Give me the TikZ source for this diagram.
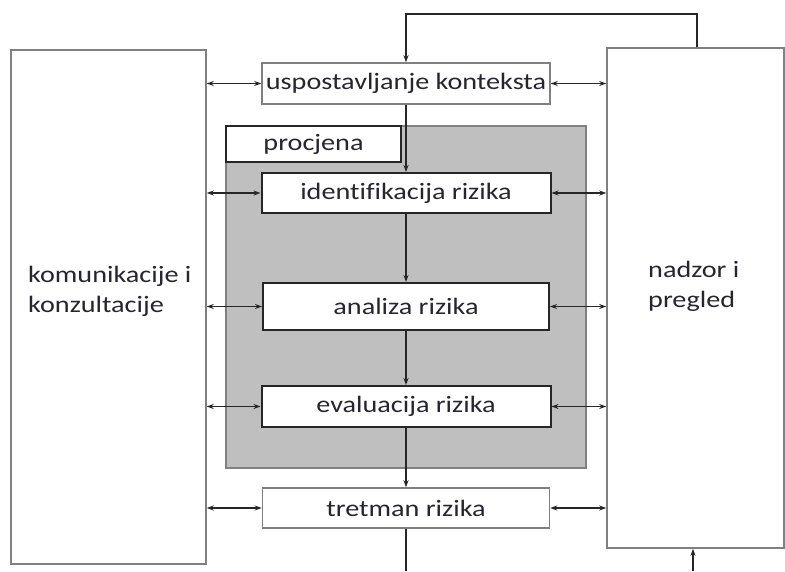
\documentclass[tikz,border=0pt]{standalone}
\usepackage{fontspec}
\setmainfont[FakeStretch=1.2,Ligatures=NoCommon]{Carlito}
\usepackage{tikz}
\usetikzlibrary{arrows,arrows.meta,shapes,positioning}
\definecolor{boxgray}{rgb}{0.5,0.5,0.5}
\definecolor{areagray}{rgb}{0.75,0.75,0.75}
\definecolor{txt}{rgb}{0.15,0.15,0.18}

\tikzset{
  lbl/.style={text=txt, font=\fontsize{23.5}{30}\selectfont, inner sep=0pt},
  outerbox/.style={draw=boxgray, line width=1.5pt, fill=white, inner sep=0pt},
  stepbox/.style={draw=black!85, line width=2pt, fill=white, inner sep=0pt, lbl},
  lightbox/.style={draw=boxgray, line width=1.5pt, fill=white, inner sep=0pt, lbl},
  link/.style={black!85, line width=1.3pt, >={Stealth[length=7pt,width=5pt]}}
}

\begin{document}
\begin{tikzpicture}[x=1pt,y=-1pt]
\useasboundingbox (0,0) rectangle (785,571);

% side boxes
\node[outerbox, minimum width=195pt, minimum height=514pt] (komunik) at (108.5,307) {};
\node[outerbox, minimum width=177pt, minimum height=500pt] (nadzor) at (695.5,298) {};
\node[lbl, anchor=base west, align=left] (komunikTxt) at (28,312) {komunikacije i\\konzultacije};
\node[lbl, anchor=base west, align=left] (nadzorTxt) at (648,307) {nadzor i\\pregled};

% assessment area
\filldraw[fill=areagray, draw=boxgray, line width=1.5pt] (226,126) rectangle (586,468);
\node[stepbox, minimum width=175pt, minimum height=36pt] (procjena) at (313.5,144) {procjena};

% process steps
\node[lightbox, minimum width=288pt, minimum height=41pt] (kontekst) at (406,83.5) {uspostavljanje konteksta};
\node[stepbox, minimum width=289pt, minimum height=40pt] (ident) at (406,193) {identifikacija rizika};
\node[stepbox, minimum width=286pt, minimum height=47pt] (analiza) at (406,306.5) {analiza rizika};
\node[stepbox, minimum width=289pt, minimum height=41pt] (evaluacija) at (406,406.5) {evaluacija rizika};
\node[lightbox, minimum width=287pt, minimum height=40pt] (tretman) at (406,508) {tretman rizika};

% flow
\draw[link,->] (kontekst) -- (ident);
\draw[link,->] (ident) -- (analiza);
\draw[link,->] (analiza) -- (evaluacija);
\draw[link,->] (evaluacija) -- (tretman);
\coordinate (outL) at (406,571);
\draw[link] (tretman) -- (outL);

% feedback loop
\coordinate (loop) at (697,14);
\draw[link,->] (loop |- nadzor.north) |- (loop -| kontekst.north) -- (kontekst.north);
\coordinate (outR) at (693,571);
\draw[link,->] (outR) -- (outR |- nadzor.south);

% communication and monitoring
\foreach \s in {kontekst,ident,analiza,evaluacija,tretman}{
  \draw[link,<->] (\s.west -| komunik.east) -- (\s.west);
  \draw[link,<->] (\s.east) -- (\s.east -| nadzor.west);
}
\end{tikzpicture}
\end{document}
